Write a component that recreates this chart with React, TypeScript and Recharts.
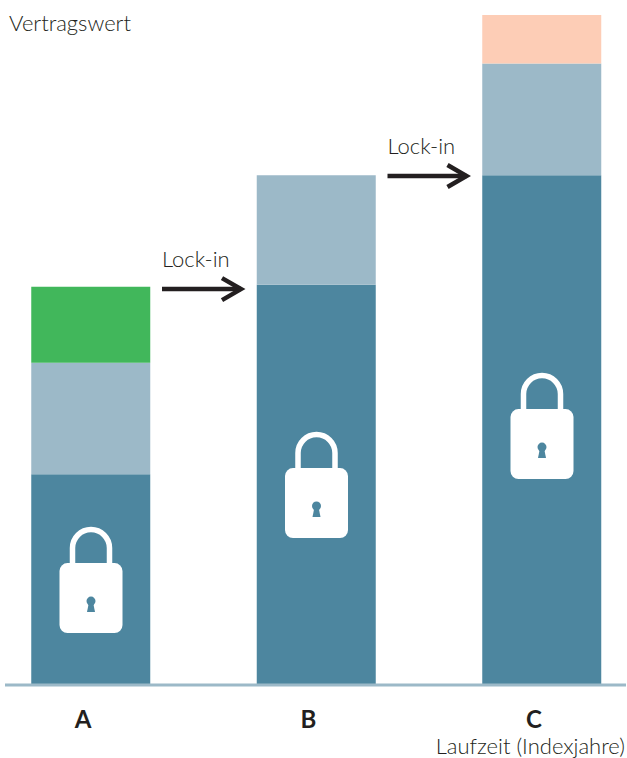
import React from 'react';
import { BarChart, Bar, Cell, XAxis, YAxis, ReferenceDot } from 'recharts';

const FONT = 'Lato, sans-serif';
const DARK = '#4d869f';
const LIGHT = '#9cb9c8';
const TEXT = '#231f20';

const categories = ['A', 'B', 'C'];
const lockedValues = [100, 190, 242];
const indexedValues = [53, 52, 53];
const extraValues = [36, 0, 23];
const extraColors = ['#41b75b', '#ffffff', '#fdcdb6'];
// height of each lock's centre and each lock-in arrow, in value units
const lockLevels = [49.8, 94.9, 122.9];
const arrowFrom = ['A', 'B'];
const arrowLevels = [187.9, 241.6];

const data = categories.map((name, i) => ({
  name,
  locked: lockedValues[i],
  indexed: indexedValues[i],
  extra: extraValues[i],
}));

const Lock = ({ cx, cy }: any) => (
  <g transform={`translate(${cx},${cy})`}>
    <path d="M-18.5 -16 V-32 A18.5 18.5 0 0 1 18.5 -32 V-16" fill="none" stroke="#fff" strokeWidth={5.5} />
    <rect x={-31.5} y={-17} width={63} height={70} rx={8} fill="#fff" />
    <circle cx={0} cy={21} r={4.5} fill={DARK} />
    <path d="M-2 22 L-4 32 H4 L2 22 Z" fill={DARK} />
  </g>
);

const Arrow = ({ cx, cy }: any) => (
  <g transform={`translate(${cx},${cy})`}>
    <text x={71} y={-22} fontFamily={FONT} fontSize={22} fontWeight={300} fill={TEXT}>Lock-in</text>
    <path d="M71 0 H150" stroke={TEXT} strokeWidth={4.5} fill="none" />
    <path d="M131 -11 L150 0 L131 11" stroke={TEXT} strokeWidth={4.5} fill="none" />
  </g>
);

export default function App() {
  return (
    <div style={{ position: 'absolute', left: 0, top: 0 }}>
      <BarChart width={627} height={758} data={data} margin={{ top: 15, right: 1, bottom: 0, left: 5 }}>
        <XAxis
          dataKey="name"
          scale="point"
          padding={{ left: 86, right: 84 }}
          axisLine={{ stroke: LIGHT, strokeWidth: 3 }}
          tickLine={false}
          tickMargin={20}
          dx={-8}
          height={73}
          tick={{ fill: TEXT, fontSize: 24, fontWeight: 700, fontFamily: FONT }}
        />
        <YAxis hide domain={[0, 318]} />
        <Bar dataKey="locked" stackId="a" fill={DARK} barSize={119} isAnimationActive={false} />
        <Bar dataKey="indexed" stackId="a" fill={LIGHT} barSize={119} isAnimationActive={false} />
        <Bar dataKey="extra" stackId="a" barSize={119} isAnimationActive={false}>
          {data.map((d, i) => <Cell key={d.name} fill={extraColors[i]} />)}
        </Bar>
        {categories.map((c, i) => (
          <ReferenceDot key={c} x={c} y={lockLevels[i]} shape={Lock} />
        ))}
        {arrowFrom.map((c, i) => (
          <ReferenceDot key={c} x={c} y={arrowLevels[i]} shape={Arrow} />
        ))}
        <text x={9} y={31} fontFamily={FONT} fontSize={22} fontWeight={300} fill={TEXT}>Vertragswert</text>
        <text x={625} y={754} textAnchor="end" fontFamily={FONT} fontSize={22} fontWeight={300} fill={TEXT}>Laufzeit (Indexjahre)</text>
      </BarChart>
    </div>
  );
}
